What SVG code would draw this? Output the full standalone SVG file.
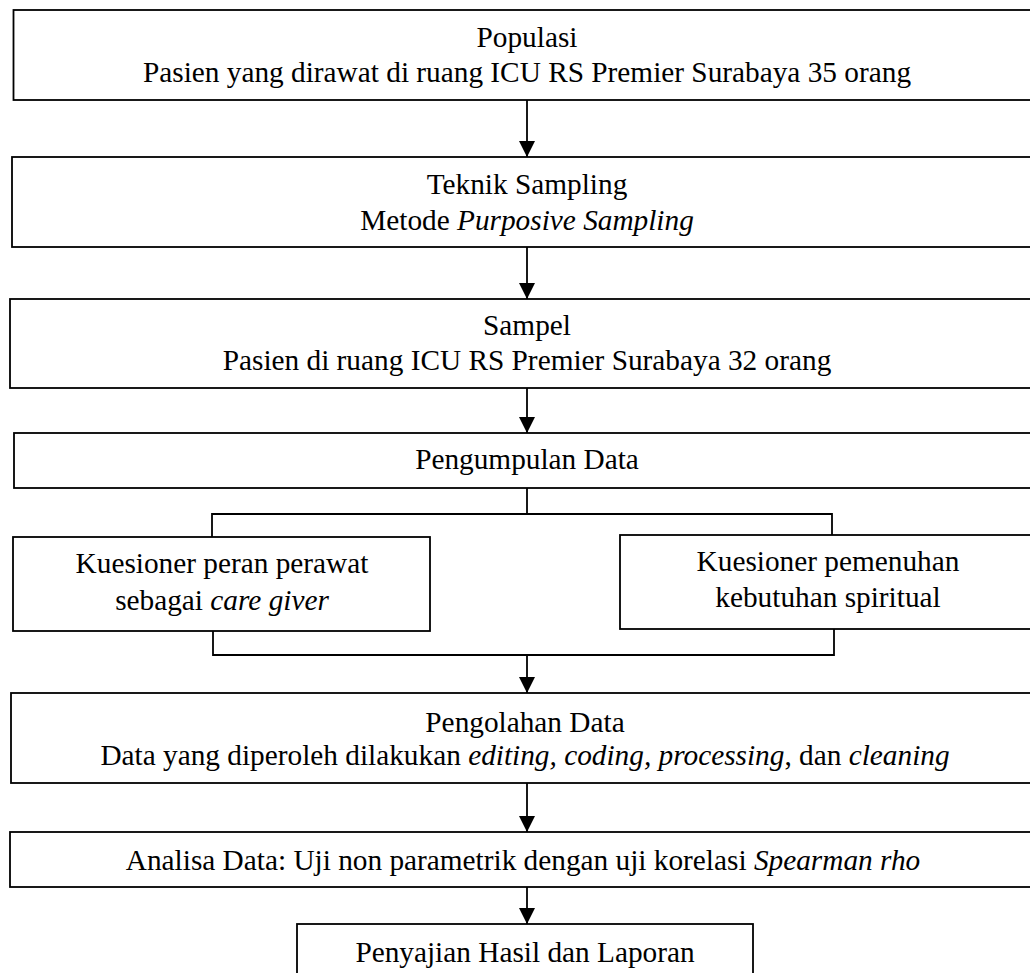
<svg xmlns="http://www.w3.org/2000/svg" width="1030" height="973" viewBox="0 0 1030 973">
<style>
.box{fill:#fff;stroke:#000;stroke-width:1.8}
.t{font-family:"Liberation Serif","Times New Roman",serif;font-size:29.3px;fill:#000;text-anchor:middle}
.i{font-style:italic}
.ln{fill:none;stroke:#000;stroke-width:1.8}
</style>
<defs>
<marker id="ah" viewBox="0 0 16 16" refX="16" refY="8" markerWidth="16" markerHeight="16" markerUnits="userSpaceOnUse" orient="auto">
<path d="M0,0 L16,8 L0,16 Z" fill="#000"/>
</marker>
</defs>
<rect width="1030" height="973" fill="#fff"/>
<g id="connectors">
<line class="ln" x1="527" y1="100" x2="527" y2="157" marker-end="url(#ah)"/>
<line class="ln" x1="527" y1="247" x2="527" y2="299" marker-end="url(#ah)"/>
<line class="ln" x1="527" y1="388" x2="527" y2="433" marker-end="url(#ah)"/>
<polyline class="ln" points="527,488 527,514"/>
<polyline class="ln" points="212,537 212,514 832,514 832,535"/>
<polyline class="ln" points="213,631 213,655 834,655 834,629"/>
<line class="ln" x1="527" y1="655" x2="527" y2="693" marker-end="url(#ah)"/>
<line class="ln" x1="527" y1="783" x2="527" y2="832" marker-end="url(#ah)"/>
<line class="ln" x1="527" y1="887" x2="527" y2="924" marker-end="url(#ah)"/>
</g>
<g id="populasi">
<rect class="box" x="13.5" y="10" width="1028" height="90"/>
<text class="t" x="527" y="47">Populasi</text>
<text class="t" x="527" y="82">Pasien yang dirawat di ruang ICU RS Premier Surabaya 35 orang</text>
</g>
<g id="teknik-sampling">
<rect class="box" x="12" y="157" width="1030" height="90"/>
<text class="t" x="527" y="194">Teknik Sampling</text>
<text class="t" x="527" y="230">Metode <tspan class="i">Purposive Sampling</tspan></text>
</g>
<g id="sampel">
<rect class="box" x="10" y="299" width="1032" height="89"/>
<text class="t" x="527" y="335">Sampel</text>
<text class="t" x="527" y="370">Pasien di ruang ICU RS Premier Surabaya 32 orang</text>
</g>
<g id="pengumpulan">
<rect class="box" x="14" y="433" width="1028" height="55"/>
<text class="t" x="527" y="469">Pengumpulan Data</text>
</g>
<g id="kuesioner-peran">
<rect class="box" x="13" y="537" width="417" height="94"/>
<text class="t" x="222" y="573">Kuesioner peran perawat</text>
<text class="t" x="222" y="610">sebagai <tspan class="i">care giver</tspan></text>
</g>
<g id="kuesioner-spiritual">
<rect class="box" x="620" y="535" width="416" height="94"/>
<text class="t" x="828" y="571">Kuesioner pemenuhan</text>
<text class="t" x="828" y="607">kebutuhan spiritual</text>
</g>
<g id="pengolahan">
<rect class="box" x="11" y="693" width="1031" height="90"/>
<text class="t" x="525" y="732">Pengolahan Data</text>
<text class="t" x="525" y="765">Data yang diperoleh dilakukan <tspan class="i">editing, coding, processing</tspan>, dan <tspan class="i">cleaning</tspan></text>
</g>
<g id="analisa">
<rect class="box" x="10" y="832" width="1032" height="55"/>
<text class="t" x="523" y="870">Analisa Data: Uji non parametrik dengan uji korelasi <tspan class="i">Spearman rho</tspan></text>
</g>
<g id="penyajian">
<rect class="box" x="297" y="924" width="456" height="80"/>
<text class="t" x="525" y="962">Penyajian Hasil dan Laporan</text>
</g>
</svg>
